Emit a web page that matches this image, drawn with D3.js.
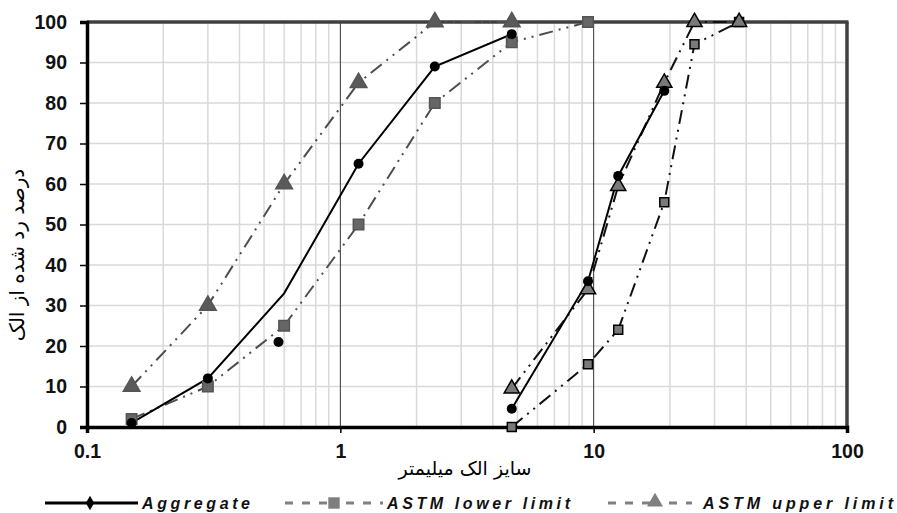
<!DOCTYPE html>
<html>
<head>
<meta charset="utf-8">
<script src="https://cdn.jsdelivr.net/npm/d3@7"></script>
<style>
  body { margin: 0; background: #fff; }
  text { font-family: "Liberation Sans", Arial, sans-serif; }
  .fa { font-family: "DejaVu Sans", sans-serif; }
</style>
</head>
<body>
<div id="chart"></div>
<script>
// sieve sizes (mm)
const fineSizes = [0.15, 0.3, 0.6, 1.18, 2.36, 4.75, 9.5];
const coarseSizes = [4.75, 9.5, 12.5, 19, 25, 37.5];

// fine aggregate (% passing)
const aggFineCurve = [1, 12, 33, 65, 89, 97];
const aggFineDotSizes = [0.15, 0.3, 0.57, 1.18, 2.36, 4.75];
const aggFineDots = [1, 12, 21, 65, 89, 97];
const lowerFine = [2, 10, 25, 50, 80, 95, 100];
const upperFine = [10, 30, 60, 85, 100, 100];

// coarse aggregate (% passing)
const aggCoarse = [4.5, 36, 62, 83];
const lowerCoarse = [0, 15.5, 24, 55.5, 94.5, 100];
const upperCoarse = [9.5, 34, 59.5, 85, 100, 100];

const xTicks = [0.1, 1, 10, 100];
const yTicks = [0, 10, 20, 30, 40, 50, 60, 70, 80, 90, 100];

const legendNames = ["Aggregate", "ASTM lower limit", "ASTM upper limit"];

var width = 897, height = 513;
var margin = { top: 22, right: 50, bottom: 86, left: 87 };

var svg = d3.select("#chart").append("svg")
    .attr("width", width)
    .attr("height", height);

var x = d3.scaleLog().domain([0.1, 100]).range([margin.left, width - margin.right]);
var y = d3.scaleLinear().domain([0, 100]).range([height - margin.bottom, margin.top]);

// minor vertical grid
var minor = [];
[0.1, 1, 10].forEach(function (dec) {
    for (var k = 2; k <= 9; k++) minor.push(dec * k);
});
svg.append("g").selectAll("line").data(minor).enter().append("line")
    .attr("x1", d => x(d)).attr("x2", d => x(d))
    .attr("y1", y(0)).attr("y2", y(100))
    .attr("stroke", "#d9d9d9").attr("stroke-width", 1.5);

// horizontal grid
svg.append("g").selectAll("line").data(yTicks.slice(1)).enter().append("line")
    .attr("x1", x(0.1)).attr("x2", x(100))
    .attr("y1", d => y(d)).attr("y2", d => y(d))
    .attr("stroke", "#d9d9d9").attr("stroke-width", 1.5);

// major vertical grid
svg.append("g").selectAll("line").data([1, 10]).enter().append("line")
    .attr("x1", d => x(d)).attr("x2", d => x(d))
    .attr("y1", y(0)).attr("y2", y(100))
    .attr("stroke", "#333").attr("stroke-width", 1);

// frame top + right
svg.append("line").attr("x1", x(0.1)).attr("x2", x(100) + 1.5)
    .attr("y1", y(100)).attr("y2", y(100))
    .attr("stroke", "#404040").attr("stroke-width", 3.5);
svg.append("line").attr("x1", x(100)).attr("x2", x(100))
    .attr("y1", y(100)).attr("y2", y(0))
    .attr("stroke", "#404040").attr("stroke-width", 3.5);

// axes
var yAxis = svg.append("g")
    .attr("transform", "translate(" + x(0.1) + ",0)")
    .call(d3.axisLeft(y).tickValues(yTicks).tickSize(7).tickPadding(13));
var xAxis = svg.append("g")
    .attr("transform", "translate(0," + y(0) + ")")
    .call(d3.axisBottom(x).tickValues(xTicks).tickFormat(d3.format("")).tickSize(6).tickPadding(11));

[xAxis, yAxis].forEach(function (ax) {
    ax.select(".domain").attr("stroke", "#000").attr("stroke-width", 3.5);
    ax.selectAll(".tick line").attr("stroke", "#000").attr("stroke-width", 1.5);
    ax.selectAll(".tick text")
        .attr("fill", "#111")
        .style("font-size", "19.5px")
        .style("font-weight", "bold")
        .style("font-family", "'Liberation Sans', Arial, sans-serif");
});

// line helpers
var line = d3.line().x(d => x(d[0])).y(d => y(d[1]));
var dashDotDot = "14,6,2,6,2,6";

function zipXY(xs, ys) { return ys.map((v, i) => [xs[i], v]); }

function drawLine(pts, color, dash, w) {
    svg.append("path").datum(pts)
        .attr("d", line)
        .attr("fill", "none")
        .attr("stroke", color)
        .attr("stroke-width", w)
        .attr("stroke-dasharray", dash);
}

var sq = d3.symbol().type(d3.symbolSquare);
var tri = d3.symbol().type(d3.symbolTriangle);

function drawMarks(pts, sym, size, fill, stroke) {
    svg.append("g").selectAll("path").data(pts).enter().append("path")
        .attr("d", sym.size(size)())
        .attr("transform", d => "translate(" + x(d[0]) + "," + y(d[1]) + ")")
        .attr("fill", fill)
        .attr("stroke", stroke)
        .attr("stroke-width", 1.5);
}

// lower limits
var lf = zipXY(fineSizes, lowerFine);
var lc = zipXY(coarseSizes, lowerCoarse);
drawLine(lf, "#4d4d4d", dashDotDot, 2);
drawLine(lc, "#111", dashDotDot, 2);

// upper limits
var uf = zipXY(fineSizes, upperFine);
var uc = zipXY(coarseSizes, upperCoarse);
drawLine(uf, "#4d4d4d", dashDotDot, 2);
drawLine(uc, "#111", dashDotDot, 2);

// aggregate
drawLine(zipXY(fineSizes, aggFineCurve), "#000", null, 2);
var ac = zipXY(coarseSizes, aggCoarse);
drawLine(ac, "#000", null, 2);

drawMarks(lf, sq, 110, "#666", "#555");
drawMarks(lc, sq, 80, "#7a7a7a", "#000");
drawMarks(uf, tri, 120, "#5a5a5a", "#555");
drawMarks(uc, tri, 100, "#7a7a7a", "#000");

svg.append("g").selectAll("circle")
    .data(zipXY(aggFineDotSizes, aggFineDots).concat(ac))
    .enter().append("circle")
    .attr("cx", d => x(d[0])).attr("cy", d => y(d[1]))
    .attr("r", 5)
    .attr("fill", "#000");

// axis titles
svg.append("text").attr("class", "fa")
    .attr("x", 465).attr("y", 475)
    .attr("text-anchor", "middle")
    .style("font-size", "19px")
    .attr("fill", "#000")
    .text("سایز الک میلیمتر");

svg.append("text").attr("class", "fa")
    .attr("transform", "translate(24,255) rotate(-90)")
    .attr("text-anchor", "middle")
    .style("font-size", "20px")
    .attr("fill", "#000")
    .text("درصد رد شده از الک");

// legend
var ly = 503;
var leg = svg.append("g");
leg.append("line").attr("x1", 45).attr("x2", 138).attr("y1", ly).attr("y2", ly)
    .attr("stroke", "#000").attr("stroke-width", 3);
leg.append("path").attr("d", d3.symbol().type(d3.symbolDiamond).size(60)())
    .attr("transform", "translate(90," + ly + ")").attr("fill", "#000");

leg.append("line").attr("x1", 285).attr("x2", 383).attr("y1", ly).attr("y2", ly)
    .attr("stroke", "#808080").attr("stroke-width", 3)
    .attr("stroke-dasharray", "8,9,8,9,8,8,2,9");
leg.append("path").attr("d", sq.size(130)())
    .attr("transform", "translate(334," + ly + ")").attr("fill", "#7f7f7f");

leg.append("line").attr("x1", 608).attr("x2", 692).attr("y1", ly).attr("y2", ly)
    .attr("stroke", "#808080").attr("stroke-width", 3)
    .attr("stroke-dasharray", "8,9,8,9,8,8,2,9");
leg.append("path").attr("d", tri.size(110)())
    .attr("transform", "translate(655," + (ly - 1) + ")").attr("fill", "#7f7f7f");

var legX = [142, 387, 703];
var legW = [108, 183, 190];
leg.selectAll("text.lg").data(legendNames).enter().append("text")
    .attr("class", "lg")
    .attr("x", (d, i) => legX[i]).attr("y", ly + 6)
    .attr("textLength", (d, i) => legW[i])
    .attr("lengthAdjust", "spacing")
    .style("font-size", "16px")
    .style("font-weight", "bold")
    .style("font-style", "italic")
    .attr("fill", "#111")
    .text(d => d);
</script>
</body>
</html>
